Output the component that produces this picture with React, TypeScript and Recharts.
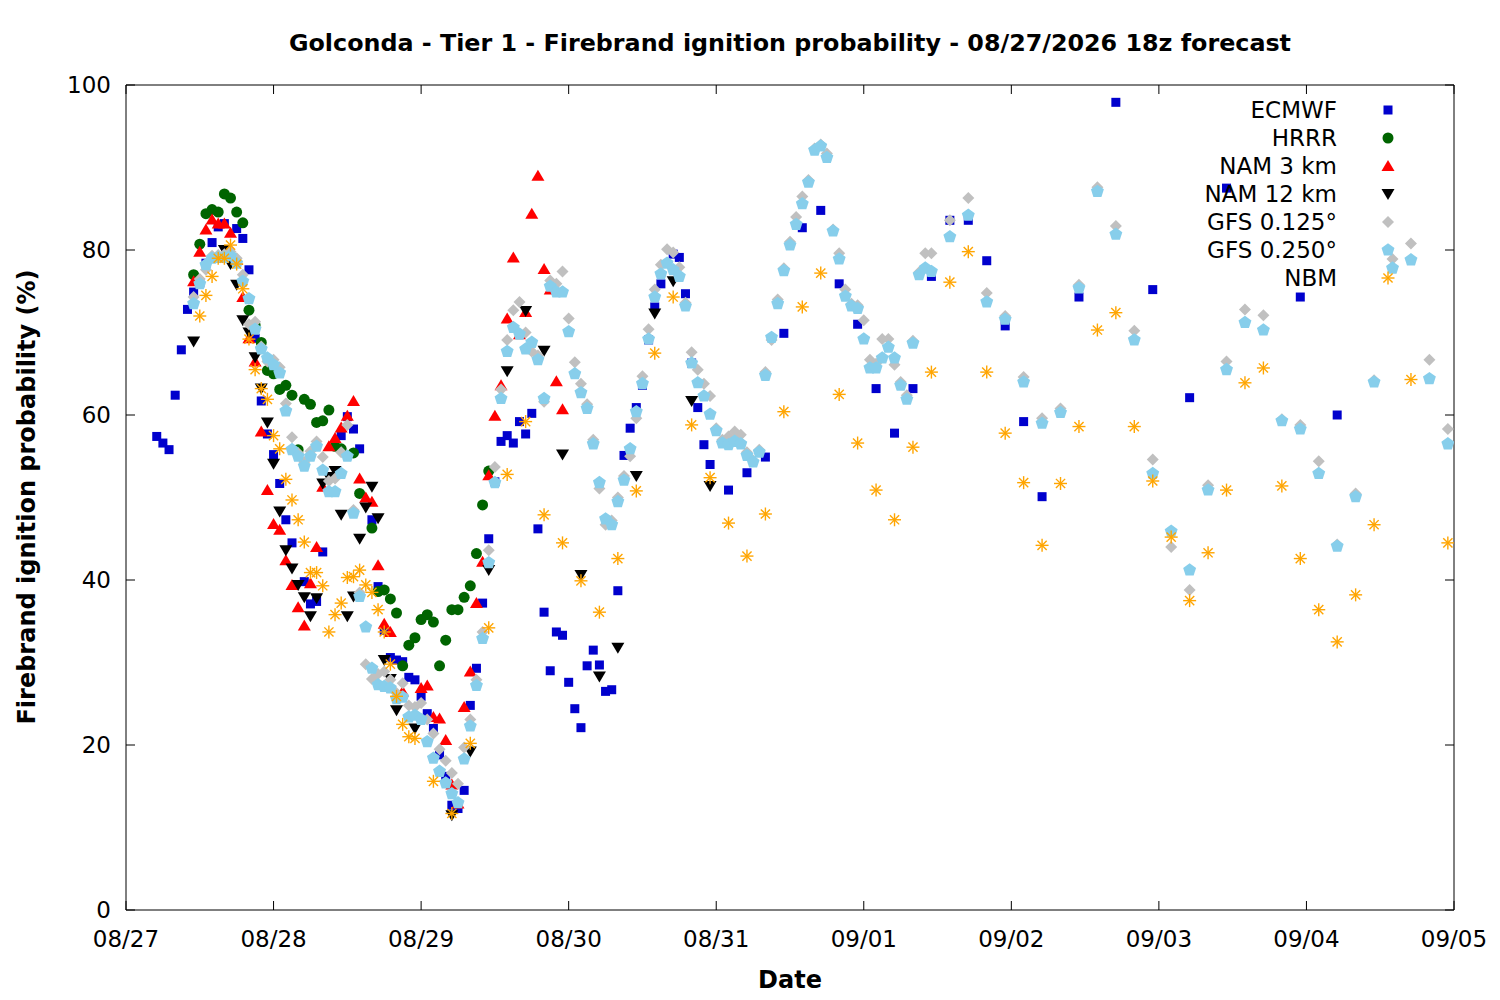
import React from 'react';
import { ScatterChart, Scatter, XAxis, YAxis, ReferenceArea } from 'recharts';

type Pt = [number, number];

const dateTicks = [0, 24, 48, 72, 96, 120, 144, 168, 192, 216];
const dateLabels = ['08/27', '08/28', '08/29', '08/30', '08/31', '09/01', '09/02', '09/03', '09/04', '09/05'];
const valueTicks = [0, 20, 40, 60, 80, 100];

const ecmwf: Pt[] = [
  [5, 57.4], [6, 56.6], [7, 55.8], [8, 62.4], [9, 67.9], [10, 72.8], [11, 74.9], [12, 76.0], [13, 78.4], [14, 80.9],
  [15, 82.8], [16, 83.2], [18, 82.6], [19, 81.4], [20, 77.6], [21, 69.3], [22, 61.7], [23, 57.7], [24, 55.2], [25, 51.7],
  [26, 47.3], [27, 44.5], [29, 39.8], [30, 37.1], [31, 37.4], [32, 43.4], [35, 57.5], [36, 59.8], [37, 58.3], [38, 55.9],
  [40, 47.3], [41, 39.2], [42, 33.9], [43, 30.6], [44, 30.3], [45, 30.1], [46, 28.2], [47, 27.9], [48, 25.9], [49, 23.8],
  [50, 22.0], [51, 18.8], [52, 16.2], [53, 12.7], [54, 12.3], [55, 14.5], [56, 24.8], [57, 29.3], [58, 37.2], [59, 45.0],
  [60, 51.9], [61, 56.8], [62, 57.5], [63, 56.6], [64, 59.2], [65, 57.7], [66, 60.2], [67, 46.2], [68, 36.1], [69, 29.0],
  [70, 33.7], [71, 33.3], [72, 27.6], [73, 24.4], [74, 22.1], [75, 29.6], [76, 31.5], [77, 29.7], [78, 26.5], [79, 26.7],
  [80, 38.7], [81, 55.1], [82, 58.4], [83, 60.9], [84, 63.6], [85, 69.1], [86, 73.1], [87, 75.9], [89, 79.5], [90, 79.1],
  [91, 74.7], [92, 66.3], [93, 60.9], [94, 56.4], [95, 54.0], [98, 50.9], [101, 53.0], [104, 54.9], [107, 69.9], [110, 82.7],
  [113, 84.8], [116, 75.9], [119, 71.0], [122, 63.2], [125, 57.8], [128, 63.2], [131, 76.8], [134, 83.6], [137, 83.6], [140, 78.7],
  [143, 70.8], [146, 59.2], [149, 50.1], [155, 74.3], [161, 97.9], [167, 75.2], [173, 62.1], [179, 87.5], [191, 74.3], [197, 60.0],
];

const hrrr: Pt[] = [
  [11, 77.0], [12, 80.7], [13, 84.4], [14, 84.9], [15, 84.6], [16, 86.8], [17, 86.3], [18, 84.6], [19, 83.3], [20, 72.7],
  [21, 70.9], [22, 68.8], [23, 65.4], [24, 65.0], [25, 63.1], [26, 63.6], [27, 62.4], [28, 55.8], [29, 61.9], [30, 61.3],
  [31, 59.1], [32, 59.3], [33, 60.6], [34, 56.2], [35, 55.9], [37, 55.4], [38, 50.5], [40, 46.3], [41, 38.6], [42, 38.8],
  [43, 37.7], [44, 36.0], [45, 29.6], [46, 32.1], [47, 33.0], [48, 35.2], [49, 35.8], [50, 34.9], [51, 29.6], [52, 32.7],
  [53, 36.4], [54, 36.4], [55, 37.9], [56, 39.3], [57, 43.2], [58, 49.1], [59, 53.2],
];

const nam3: Pt[] = [
  [11, 76.2], [12, 79.8], [13, 82.5], [14, 83.7], [15, 83.2], [16, 83.2], [17, 82.1], [18, 78.8], [19, 74.3], [20, 69.3],
  [21, 66.5], [22, 58.0], [23, 50.9], [24, 46.8], [25, 46.1], [26, 42.4], [27, 39.4], [28, 36.7], [29, 34.5], [30, 39.6],
  [31, 44.0], [32, 51.3], [33, 56.2], [34, 57.2], [35, 58.5], [36, 59.9], [37, 61.7], [38, 52.3], [39, 50.0], [40, 49.5],
  [41, 41.8], [42, 34.7], [43, 33.7], [45, 26.5], [48, 26.9], [49, 27.2], [50, 23.4], [51, 23.2], [52, 20.6], [53, 15.2],
  [54, 12.9], [55, 24.6], [56, 28.9], [57, 37.2], [58, 42.2], [59, 52.7], [60, 59.9], [61, 63.6], [62, 71.7], [63, 79.1],
  [64, 69.8], [65, 72.5], [66, 84.4], [67, 89.0], [68, 77.7], [69, 75.2], [70, 64.1], [71, 60.7],
];

const nam12: Pt[] = [
  [11, 68.9], [16, 80.0], [17, 78.3], [18, 75.8], [19, 71.5], [20, 70.0], [21, 67.0], [22, 63.2], [23, 59.1], [24, 54.1],
  [25, 48.3], [26, 43.6], [27, 41.4], [28, 39.4], [29, 37.9], [30, 35.6], [31, 37.8], [32, 51.7], [33, 52.5], [34, 53.2],
  [35, 47.9], [36, 35.6], [37, 38.0], [38, 45.0], [39, 48.8], [40, 51.3], [41, 47.5], [42, 30.3], [43, 28.0], [44, 24.2],
  [47, 22.0], [53, 11.5], [56, 19.2], [59, 41.2], [62, 65.3], [65, 72.6], [68, 67.8], [71, 55.2], [74, 40.6], [77, 28.3],
  [80, 31.8], [83, 52.6], [86, 72.3], [89, 76.2], [92, 61.7], [95, 51.4],
];

const gfs0125: Pt[] = [
  [11, 74.3], [12, 76.5], [13, 77.6], [14, 79.3], [15, 79.4], [16, 79.5], [17, 79.8], [18, 79.0], [19, 77.0], [20, 71.0],
  [21, 71.3], [22, 68.3], [23, 66.5], [24, 66.7], [25, 65.8], [26, 61.4], [27, 57.3], [28, 55.4], [29, 54.3], [30, 55.6],
  [31, 56.8], [32, 54.9], [33, 52.0], [34, 52.3], [35, 55.5], [36, 58.8], [37, 48.5], [38, 38.5], [39, 29.8], [40, 28.0],
  [41, 28.6], [42, 28.9], [43, 27.9], [44, 26.3], [45, 27.5], [46, 24.8], [47, 24.6], [48, 25.1], [49, 23.1], [50, 21.4],
  [51, 19.5], [52, 18.1], [53, 16.6], [54, 15.3], [55, 19.7], [56, 23.1], [57, 27.9], [58, 33.7], [59, 43.6], [60, 53.7],
  [61, 63.1], [62, 69.1], [63, 72.7], [64, 73.7], [65, 70.0], [66, 67.7], [67, 67.2], [68, 61.6], [69, 76.3], [70, 75.9],
  [71, 77.4], [72, 71.7], [73, 66.4], [74, 63.8], [75, 61.3], [76, 57.0], [77, 51.1], [78, 46.7], [79, 47.2], [80, 50.0],
  [81, 52.6], [82, 55.0], [83, 59.6], [84, 64.7], [85, 70.4], [86, 75.2], [87, 78.2], [88, 80.1], [89, 79.7], [90, 77.9],
  [91, 73.6], [92, 67.6], [93, 65.5], [94, 63.8], [95, 62.3], [96, 58.4], [97, 57.0], [98, 57.4], [99, 58.0], [100, 57.6],
  [101, 55.5], [102, 54.5], [103, 55.8], [104, 65.2], [105, 69.1], [106, 74.0], [107, 77.8], [108, 81.0], [109, 84.0], [110, 86.5],
  [111, 88.5], [112, 92.3], [113, 92.8], [114, 91.7], [115, 82.5], [116, 79.6], [117, 75.2], [118, 73.5], [119, 73.3], [120, 71.5],
  [121, 66.7], [122, 66.2], [123, 69.2], [124, 69.2], [125, 66.1], [126, 64.0], [127, 62.4], [128, 69.0], [129, 77.3], [130, 79.6],
  [131, 79.6], [134, 83.6], [137, 86.3], [140, 74.8], [143, 72.0], [146, 64.6], [149, 59.6], [152, 60.8], [155, 75.8], [158, 87.6],
  [161, 82.9], [164, 70.2], [167, 54.6], [170, 44.0], [173, 38.8], [176, 51.5], [179, 66.5], [182, 72.8], [185, 72.1], [188, 59.5],
  [191, 58.8], [194, 54.4], [197, 44.3], [200, 50.5], [203, 64.2], [206, 78.9], [209, 80.8], [212, 66.7], [215, 58.3],
];

const gfs0250: Pt[] = [
  [11, 73.5], [12, 75.9], [13, 78.2], [14, 79.0], [15, 79.1], [16, 79.1], [17, 79.3], [18, 78.4], [19, 76.2], [20, 74.1],
  [21, 70.4], [22, 68.0], [23, 66.9], [24, 66.1], [25, 65.1], [26, 60.5], [27, 55.8], [28, 55.0], [29, 53.8], [30, 55.0],
  [31, 56.2], [32, 53.3], [33, 50.7], [34, 50.7], [35, 52.9], [36, 55.0], [37, 48.1], [38, 38.0], [39, 34.3], [40, 29.3],
  [41, 27.3], [42, 27.1], [43, 26.9], [44, 25.6], [45, 25.8], [46, 23.4], [47, 23.6], [48, 23.1], [49, 20.4], [50, 18.4],
  [51, 16.8], [52, 15.4], [53, 14.1], [54, 13.0], [55, 18.3], [56, 22.3], [57, 27.2], [58, 32.9], [59, 42.1], [60, 51.8],
  [61, 62.0], [62, 67.7], [63, 70.6], [64, 69.8], [65, 68.0], [66, 68.8], [67, 66.7], [68, 62.0], [69, 75.6], [70, 74.9],
  [71, 74.9], [72, 70.1], [73, 65.0], [74, 62.7], [75, 60.8], [76, 56.5], [77, 51.8], [78, 47.4], [79, 46.7], [80, 49.5],
  [81, 52.1], [82, 55.9], [83, 60.4], [84, 63.8], [85, 69.2], [86, 74.3], [87, 77.1], [88, 78.4], [89, 77.6], [90, 76.8],
  [91, 73.2], [92, 66.3], [93, 63.9], [94, 62.3], [95, 60.1], [96, 58.1], [97, 56.6], [98, 56.4], [99, 56.8], [100, 56.5],
  [101, 55.1], [102, 54.3], [103, 55.5], [104, 64.8], [105, 69.4], [106, 73.5], [107, 77.5], [108, 80.6], [109, 83.1], [110, 85.6],
  [111, 88.2], [112, 92.1], [113, 92.6], [114, 91.2], [115, 82.3], [116, 78.9], [117, 74.4], [118, 73.2], [119, 72.9], [120, 69.2],
  [121, 65.7], [122, 65.7], [123, 66.9], [124, 68.2], [125, 66.9], [126, 63.6], [127, 61.9], [128, 68.7], [129, 77.0], [130, 77.8],
  [131, 77.4], [134, 81.6], [137, 84.2], [140, 73.7], [143, 71.6], [146, 64.0], [149, 59.0], [152, 60.3], [155, 75.4], [158, 87.1],
  [161, 81.9], [164, 69.1], [167, 52.9], [170, 45.9], [173, 41.2], [176, 50.9], [179, 65.5], [182, 71.2], [185, 70.3], [188, 59.3],
  [191, 58.3], [194, 52.9], [197, 44.1], [200, 50.1], [203, 64.0], [206, 77.8], [209, 78.8], [212, 64.4], [215, 56.5],
];

const nbm: Pt[] = [
  [12, 72.0], [13, 74.5], [14, 76.8], [15, 79.0], [16, 79.0], [17, 80.6], [18, 78.3], [19, 75.3], [20, 69.2], [21, 65.5],
  [22, 63.2], [23, 61.9], [24, 57.5], [25, 55.9], [26, 52.2], [27, 49.7], [28, 47.3], [29, 44.6], [30, 40.9], [31, 40.9],
  [32, 39.3], [33, 33.7], [34, 35.8], [35, 37.2], [36, 40.3], [37, 40.4], [38, 41.2], [39, 39.4], [40, 38.5], [41, 36.4],
  [42, 33.7], [43, 29.8], [44, 25.9], [45, 22.5], [46, 21.0], [47, 20.8], [50, 15.6], [53, 11.7], [56, 20.2], [59, 34.2],
  [62, 52.8], [65, 59.2], [68, 47.9], [71, 44.5], [74, 39.9], [77, 36.1], [80, 42.6], [83, 50.8], [86, 67.5], [89, 74.3],
  [92, 58.8], [95, 52.4], [98, 46.9], [101, 42.9], [104, 48.0], [107, 60.4], [110, 73.1], [113, 77.2], [116, 62.5], [119, 56.6],
  [122, 50.9], [125, 47.3], [128, 56.1], [131, 65.2], [134, 76.1], [137, 79.8], [140, 65.2], [143, 57.8], [146, 51.8], [149, 44.2],
  [152, 51.7], [155, 58.6], [158, 70.3], [161, 72.4], [164, 58.6], [167, 52.0], [170, 45.2], [173, 37.5], [176, 43.3], [179, 50.9],
  [182, 63.9], [185, 65.7], [188, 51.4], [191, 42.6], [194, 36.4], [197, 32.5], [200, 38.2], [203, 46.7], [209, 64.3], [215, 44.5],
];

const rows = (pts: Pt[]) => pts.map(([h, v]) => ({ h, v }));

const FONT = 'DejaVu Sans, sans-serif';
const PLOT = { left: 126, right: 1454, top: 85, bottom: 910 };

const C = {
  ecmwf: '#0000cd',
  hrrr: '#006400',
  nam3: '#ff0000',
  nam12: '#000000',
  gfs0125: '#c0c0c0',
  gfs0250: '#87ceeb',
  nbm: '#ffa500',
};

const squareShape = (color: string) => (p: any) =>
  <rect x={p.cx - 4.5} y={p.cy - 4.5} width={9} height={9} fill={color} />;
const circleShape = (color: string) => (p: any) =>
  <circle cx={p.cx} cy={p.cy} r={5.5} fill={color} />;
const upShape = (color: string) => (p: any) =>
  <polygon points={`${p.cx},${p.cy - 6} ${p.cx + 6.5},${p.cy + 5} ${p.cx - 6.5},${p.cy + 5}`} fill={color} />;
const downShape = (color: string) => (p: any) =>
  <polygon points={`${p.cx},${p.cy + 6} ${p.cx + 6.5},${p.cy - 5} ${p.cx - 6.5},${p.cy - 5}`} fill={color} />;
const diamondShape = (color: string) => (p: any) =>
  <polygon points={`${p.cx},${p.cy - 6} ${p.cx + 6},${p.cy} ${p.cx},${p.cy + 6} ${p.cx - 6},${p.cy}`} fill={color} />;
const pentagonShape = (color: string) => (p: any) => {
  const pts = [0, 1, 2, 3, 4].map((k) => {
    const a = (-90 + k * 72) * Math.PI / 180;
    return `${p.cx + 6.8 * Math.cos(a)},${p.cy + 6.8 * Math.sin(a)}`;
  }).join(' ');
  return <polygon points={pts} fill={color} />;
};
const starShape = (color: string) => (p: any) => {
  const r = 6.5;
  const d = r * 0.707;
  return (
    <g stroke={color} strokeWidth={1.4}>
      <line x1={p.cx - r} y1={p.cy} x2={p.cx + r} y2={p.cy} />
      <line x1={p.cx} y1={p.cy - r} x2={p.cx} y2={p.cy + r} />
      <line x1={p.cx - d} y1={p.cy - d} x2={p.cx + d} y2={p.cy + d} />
      <line x1={p.cx - d} y1={p.cy + d} x2={p.cx + d} y2={p.cy - d} />
    </g>
  );
};

const series = [
  { name: 'ECMWF', data: ecmwf, shape: squareShape(C.ecmwf) },
  { name: 'HRRR', data: hrrr, shape: circleShape(C.hrrr) },
  { name: 'NAM 3 km', data: nam3, shape: upShape(C.nam3) },
  { name: 'NAM 12 km', data: nam12, shape: downShape(C.nam12) },
  { name: 'GFS 0.125°', data: gfs0125, shape: diamondShape(C.gfs0125) },
  { name: 'GFS 0.250°', data: gfs0250, shape: pentagonShape(C.gfs0250) },
  { name: 'NBM', data: nbm, shape: starShape(C.nbm) },
];

const XTick = (props: any) => {
  const { x, payload } = props;
  const i = dateTicks.indexOf(payload.value);
  return (
    <g>
      <line x1={x} x2={x} y1={PLOT.bottom} y2={PLOT.bottom - 9} stroke="#000" />
      <line x1={x} x2={x} y1={PLOT.top} y2={PLOT.top + 9} stroke="#000" />
      <text x={x} y={947} textAnchor="middle" fontFamily={FONT} fontSize={23} fill="#000">
        {i >= 0 ? dateLabels[i] : ''}
      </text>
    </g>
  );
};

const YTick = (props: any) => {
  const { y, payload } = props;
  return (
    <g>
      <line x1={PLOT.left} x2={PLOT.left + 9} y1={y} y2={y} stroke="#000" />
      <line x1={PLOT.right} x2={PLOT.right - 9} y1={y} y2={y} stroke="#000" />
      <text x={111} y={y + 8} textAnchor="end" fontFamily={FONT} fontSize={23} fill="#000">
        {payload.value}
      </text>
    </g>
  );
};

const LegendBox = () => (
  <div style={{ position: 'absolute', left: 1100, top: 96, width: 320 }}>
    {series.map((s, i) => (
      <div key={s.name} style={{ position: 'absolute', top: i * 28, left: 0, width: 320, height: 28 }}>
        <div style={{ position: 'absolute', right: 83, top: 0, fontFamily: FONT, fontSize: 23, lineHeight: '28px', whiteSpace: 'nowrap', color: '#000' }}>
          {s.name}
        </div>
        <svg style={{ position: 'absolute', left: 276, top: 2 }} width={24} height={24}>
          {s.shape({ cx: 12, cy: 12 })}
        </svg>
      </div>
    ))}
  </div>
);

export default function App() {
  return (
    <div style={{ position: 'absolute', left: 0, top: 0, width: 1500, height: 1000, background: '#fff' }}>
      <div style={{ position: 'absolute', left: 0, width: 1580, top: 28, textAlign: 'center', fontFamily: FONT, fontWeight: 'bold', fontSize: 23.8, lineHeight: '30px' }}>
        Golconda - Tier 1 - Firebrand ignition probability - 08/27/2026 18z forecast
      </div>
      <ScatterChart width={1500} height={1000} margin={{ top: 85, right: 46, bottom: 60, left: 66 }}>
        <XAxis dataKey="h" type="number" domain={[0, 216]} ticks={dateTicks} interval={0}
          tick={<XTick />} tickLine={false} axisLine={false} height={30} allowDataOverflow />
        <YAxis dataKey="v" type="number" domain={[0, 100]} ticks={valueTicks} interval={0}
          tick={<YTick />} tickLine={false} axisLine={false} width={60} allowDataOverflow />
        <ReferenceArea x1={0} x2={216} y1={0} y2={100} fill="none" stroke="#000" strokeWidth={1} ifOverflow="visible" />
        {series.map((s) => (
          <Scatter key={s.name} name={s.name} data={rows(s.data)} shape={s.shape} isAnimationActive={false} />
        ))}
      </ScatterChart>
      <div style={{ position: 'absolute', left: 640, width: 300, top: 965, textAlign: 'center', fontFamily: FONT, fontWeight: 'bold', fontSize: 24, lineHeight: '30px' }}>
        Date
      </div>
      <div style={{ position: 'absolute', left: 27, top: 497, width: 0, height: 0 }}>
        <div style={{ position: 'absolute', left: -300, top: -15, width: 600, textAlign: 'center', transform: 'rotate(-90deg)', fontFamily: FONT, fontWeight: 'bold', fontSize: 24, lineHeight: '30px', whiteSpace: 'nowrap' }}>
          Firebrand ignition probability (%)
        </div>
      </div>
      <LegendBox />
    </div>
  );
}
